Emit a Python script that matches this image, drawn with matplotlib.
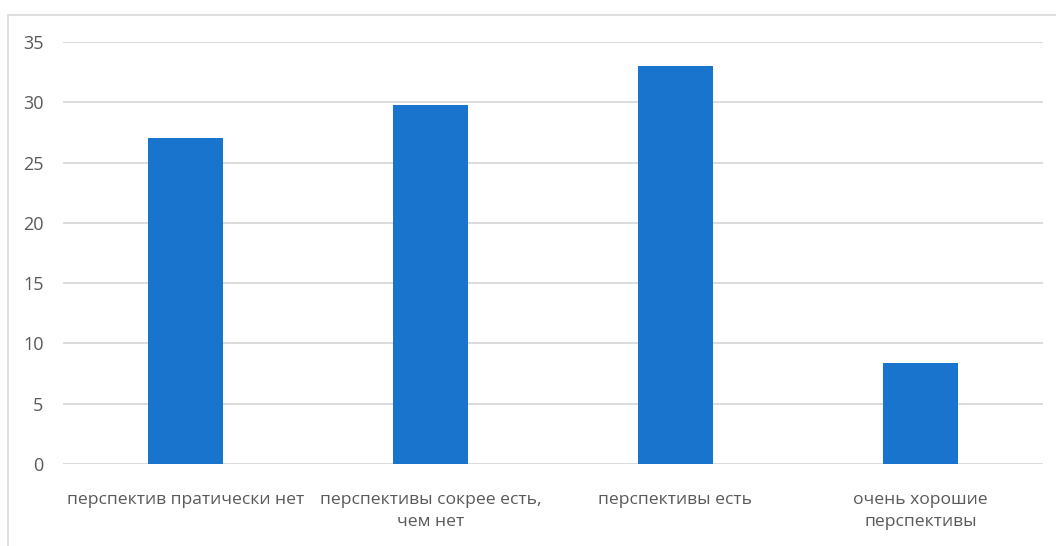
import matplotlib
matplotlib.use("Agg")
import matplotlib.pyplot as plt
from matplotlib.patches import Rectangle

categories = [
    "перспектив пратически нет",
    "перспективы сокрее есть,\nчем нет",
    "перспективы есть",
    "очень хорошие\nперспективы",
]
values = [27.0, 29.8, 33.0, 8.4]
y_ticks = [0, 5, 10, 15, 20, 25, 30, 35]

plt.rcParams["font.family"] = ["Open Sans", "DejaVu Sans"]

fig = plt.figure(figsize=(10.56, 5.46), dpi=100)
fig.patch.set_facecolor("white")

# light frame around the chart area
fig.patches.append(Rectangle((8 / 1056, -0.05), 1.1, 1 - 15 / 546 + 0.05,
                             transform=fig.transFigure, fill=False,
                             edgecolor="#d9d9d9", linewidth=1.2))

ax = fig.add_axes([63 / 1056, (546 - 464) / 546, 980 / 1056, 422 / 546])
x = list(range(len(categories)))
ax.bar(x, values, width=0.31, color="#1874cd", zorder=3)

ax.set_xlim(-0.5, len(categories) - 0.5)
ax.set_ylim(0, 35)
ax.set_yticks(y_ticks)
ax.set_yticklabels([str(t) for t in y_ticks], fontsize=13, color="#595959")
ax.set_xticks(x)
ax.set_xticklabels(categories, fontsize=12.6, color="#595959", linespacing=1.55)

ax.grid(axis="y", color="#d9d9d9", linewidth=1.3, zorder=0)
for s in ax.spines.values():
    s.set_visible(False)
ax.tick_params(axis="both", length=0)
ax.tick_params(axis="y", pad=14)
ax.tick_params(axis="x", pad=20)

fig.savefig("out.png", dpi=100, facecolor="white")
